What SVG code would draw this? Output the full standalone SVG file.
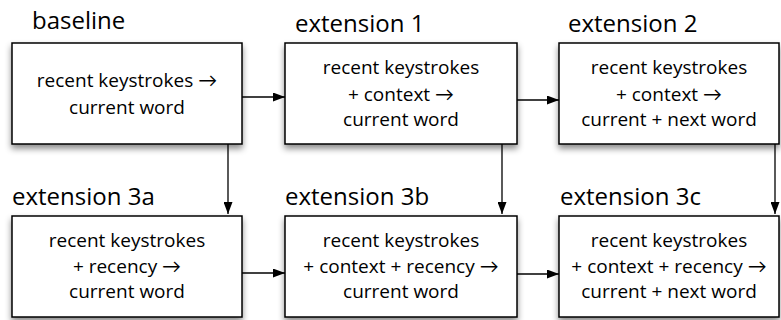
<svg xmlns="http://www.w3.org/2000/svg" width="781" height="320" viewBox="0 0 781 320">
<style>
.box{fill:#fff;stroke:#000;stroke-width:1.5}
.title{font-family:"Open Sans",Lato,sans-serif;font-size:24px;fill:#000}
.body{font-family:"Open Sans",Lato,sans-serif;font-size:19px;fill:#000;text-anchor:middle}
.edge{stroke:#000;stroke-width:1.3;fill:none;marker-end:url(#ah)}
</style>
<defs>
<filter id="sh" x="-10%" y="-10%" width="125%" height="135%">
<feDropShadow dx="0" dy="4" stdDeviation="3" flood-color="#000" flood-opacity="0.45"/>
</filter>
<marker id="ah" markerWidth="12" markerHeight="9" refX="12" refY="4.5" orient="auto" markerUnits="userSpaceOnUse">
<path d="M0,0 L12,4.5 L0,9 Z" fill="#000"/>
</marker>
</defs>
<g id="baseline">
<text class="title" x="32" y="29">baseline</text>
<rect class="box" x="12" y="43" width="230" height="101" filter="url(#sh)"/>
<text class="body" x="127" y="87">recent keystrokes →</text>
<text class="body" x="127" y="114">current word</text>
</g>
<g id="ext1">
<text class="title" x="295" y="32">extension 1</text>
<rect class="box" x="285" y="43" width="232" height="101" filter="url(#sh)"/>
<text class="body" x="401" y="74">recent keystrokes</text>
<text class="body" x="401" y="101">+ context →</text>
<text class="body" x="401" y="126">current word</text>
</g>
<g id="ext2">
<text class="title" x="568" y="32">extension 2</text>
<rect class="box" x="559" y="43" width="220" height="101" filter="url(#sh)"/>
<text class="body" x="669" y="74">recent keystrokes</text>
<text class="body" x="669" y="101">+ context →</text>
<text class="body" x="669" y="126">current + next word</text>
</g>
<g id="ext3a">
<text class="title" x="12" y="205">extension 3a</text>
<rect class="box" x="12" y="216" width="230" height="101" filter="url(#sh)"/>
<text class="body" x="127" y="247">recent keystrokes</text>
<text class="body" x="127" y="273">+ recency →</text>
<text class="body" x="127" y="298">current word</text>
</g>
<g id="ext3b">
<text class="title" x="285" y="205">extension 3b</text>
<rect class="box" x="285" y="216" width="232" height="101" filter="url(#sh)"/>
<text class="body" x="401" y="247">recent keystrokes</text>
<text class="body" x="401" y="273">+ context + recency →</text>
<text class="body" x="401" y="298">current word</text>
</g>
<g id="ext3c">
<text class="title" x="560" y="205">extension 3c</text>
<rect class="box" x="559" y="216" width="220" height="101" filter="url(#sh)"/>
<text class="body" x="669" y="247">recent keystrokes</text>
<text class="body" x="669" y="273">+ context + recency →</text>
<text class="body" x="669" y="298">current + next word</text>
</g>
<g id="connectors">
<line class="edge" x1="242" y1="97" x2="285" y2="97"/>
<line class="edge" x1="517" y1="100" x2="559" y2="100"/>
<line class="edge" x1="228" y1="144" x2="228" y2="214"/>
<line class="edge" x1="502" y1="144" x2="502" y2="214"/>
<line class="edge" x1="775" y1="144" x2="775" y2="214"/>
<line class="edge" x1="242" y1="273" x2="285" y2="273"/>
<line class="edge" x1="517" y1="274" x2="559" y2="274"/>
</g>
</svg>
